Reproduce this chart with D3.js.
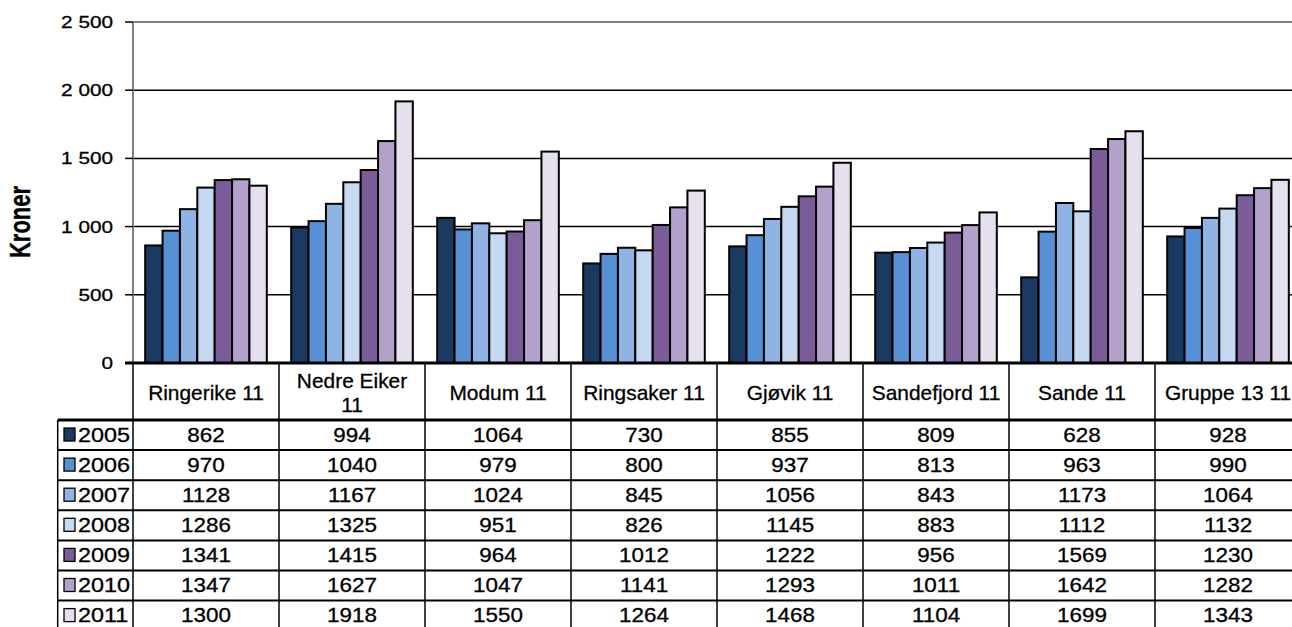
<!DOCTYPE html>
<html><head><meta charset="utf-8">
<script src="https://cdn.jsdelivr.net/npm/d3@7/dist/d3.min.js"></script>
<style>body{margin:0;background:#fff}svg{display:block}text{font-family:"Liberation Sans",Arial,sans-serif;fill:#000;stroke:#000;stroke-width:0.3px}</style>
</head><body>
<svg id="c" width="1292" height="627"></svg>
<script>
const categories = ["Ringerike 11","Nedre Eiker 11","Modum 11","Ringsaker 11","Gjøvik 11","Sandefjord 11","Sande 11","Gruppe 13 11"];
const headerLines = [["Ringerike 11"],["Nedre Eiker","11"],["Modum 11"],["Ringsaker 11"],["Gjøvik 11"],["Sandefjord 11"],["Sande 11"],["Gruppe 13 11"]];
const years = ["2005","2006","2007","2008","2009","2010","2011"];
const s2005 = [862,994,1064,730,855,809,628,928];
const s2006 = [970,1040,979,800,937,813,963,990];
const s2007 = [1128,1167,1024,845,1056,843,1173,1064];
const s2008 = [1286,1325,951,826,1145,883,1112,1132];
const s2009 = [1341,1415,964,1012,1222,956,1569,1230];
const s2010 = [1347,1627,1047,1141,1293,1011,1642,1282];
const s2011 = [1300,1918,1550,1264,1468,1104,1699,1343];
const series = [s2005,s2006,s2007,s2008,s2009,s2010,s2011];
const colors = ["#1b3a62","#5890d6","#8fb4e3","#c5d9f1","#7b5c99","#b3a1cb","#e5dfee"];
const yTicks = [0,500,1000,1500,2000,2500];
const yLabel = "Kroner";

(function(){
const svg = d3.select("#c");
const pl = 133, pr = 1301, pt = 22, zeroY = 363;
const y = d3.scaleLinear().domain([0,2500]).range([zeroY, pt]);
const x0 = d3.scaleBand().domain(categories).range([pl,pr]).paddingInner(0.167).paddingOuter(0.0835);
const x1 = d3.scaleBand().domain(years).range([0, x0.bandwidth()]);
const step = x0.step();
const fmt = v => v >= 1000 ? Math.floor(v/1000) + " " + String(v%1000).padStart(3,"0") : String(v);

function stext(g, str, x, yy, size, sx, anchor, weight) {
  return g.append("text").attr("transform", `translate(${x},${yy}) scale(${sx},1)`)
    .attr("text-anchor", anchor).attr("font-size", size).attr("font-weight", weight||"normal").text(str);
}

const grid = svg.append("g");
yTicks.filter(t => t > 0).forEach(t => {
  grid.append("line").attr("x1", pl).attr("x2", 1292).attr("y1", y(t)).attr("y2", y(t))
    .attr("stroke", t === 2500 ? "#808080" : "#000").attr("stroke-width", t === 2500 ? 2 : 1.5);
});
svg.append("line").attr("x1", pl).attr("x2", pl).attr("y1", pt).attr("y2", zeroY).attr("stroke","#808080").attr("stroke-width",2);
yTicks.forEach(t => {
  svg.append("line").attr("x1", 125).attr("x2", pl).attr("y1", y(t)).attr("y2", y(t)).attr("stroke","#000").attr("stroke-width",1.5);
  stext(svg, fmt(t), 113, y(t)+6, 17, 1.22, "end");
});
svg.append("text").attr("transform","translate(30,222) scale(1.3,1) rotate(-90)")
  .attr("text-anchor","middle").attr("font-size",22).attr("font-weight","bold").text(yLabel);

const groups = svg.append("g").selectAll("g").data(categories).join("g")
  .attr("transform", c => `translate(${x0(c)},0)`);
groups.selectAll("rect").data((c,i) => years.map((yr,k) => ({yr, v: series[k][i], k})))
  .join("rect")
  .attr("x", d => x1(d.yr)).attr("width", x1.bandwidth())
  .attr("y", d => y(d.v)).attr("height", d => zeroY - y(d.v))
  .attr("fill", d => colors[d.k]).attr("stroke","#000").attr("stroke-width",2);

svg.append("line").attr("x1", 125).attr("x2", 1292).attr("y1", zeroY).attr("y2", zeroY).attr("stroke","#000").attr("stroke-width",3);

const tableLeft = 57.7, headBottom = 420, rowH = 30.1;
const tg = svg.append("g");
for (let i = 0; i <= categories.length; i++) {
  const xx = pl + step*i;
  tg.append("line").attr("x1",xx).attr("x2",xx).attr("y1",zeroY).attr("y2",640).attr("stroke","#000").attr("stroke-width",1.5);
}
tg.append("line").attr("x1",tableLeft).attr("x2",tableLeft).attr("y1",headBottom).attr("y2",640).attr("stroke","#000").attr("stroke-width",1.5);
tg.append("line").attr("x1",tableLeft).attr("x2",1292).attr("y1",headBottom).attr("y2",headBottom).attr("stroke","#000").attr("stroke-width",3);
for (let r = 1; r < years.length; r++) {
  const yy = headBottom + rowH*r;
  tg.append("line").attr("x1",tableLeft).attr("x2",1292).attr("y1",yy).attr("y2",yy).attr("stroke","#000").attr("stroke-width",2);
}
categories.forEach((c,i) => {
  const cx = pl + step*i + step/2;
  const lines = headerLines[i];
  if (lines.length === 1) stext(tg, lines[0], cx, 400, 20.5, 1.02, "middle");
  else { stext(tg, lines[0], cx, 388, 20.5, 1.02, "middle"); stext(tg, lines[1], cx, 412, 20.5, 1.02, "middle"); }
});
years.forEach((yr,k) => {
  const rt = headBottom + rowH*k;
  tg.append("rect").attr("x",64).attr("y",rt+8).attr("width",11).attr("height",13)
    .attr("fill",colors[k]).attr("stroke","#000").attr("stroke-width",1.3);
  stext(tg, yr, 78, rt+21.8, 19.5, 1.2, "start");
  categories.forEach((c,i) => {
    const cx = pl + step*i + step/2;
    stext(tg, String(series[k][i]), cx, rt+21.8, 19.5, 1.15, "middle");
  });
});
})();
</script>
</body></html>
